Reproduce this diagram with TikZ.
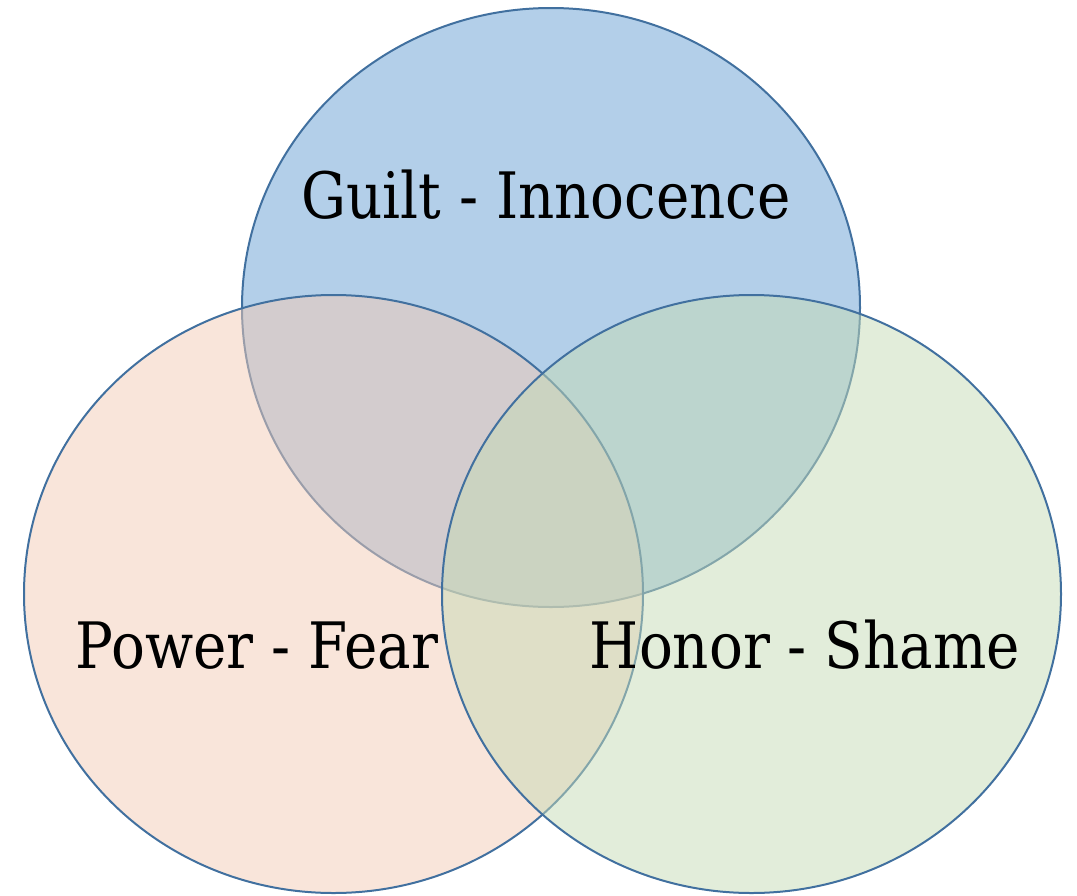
\documentclass[tikz,border=0pt]{standalone}
\usepackage{fontspec}
\setmainfont[FakeStretch=0.88]{DejaVu Serif}
\begin{document}
\begin{tikzpicture}[x=1pt,y=-1pt,
  venn/.style={draw=vennline, line width=2pt, fill opacity=0.5},
  lbl/.style={font=\fontsize{64}{70}\selectfont, text=black, inner sep=0pt, anchor=base}]
\definecolor{vennline}{RGB}{65,112,159}
\definecolor{vtop}{RGB}{179,207,233}
\definecolor{vleft}{RGB}{243,203,181}
\definecolor{vright}{RGB}{197,219,181}
\useasboundingbox (0,0) rectangle (1077,895);
\draw[venn, fill=vtop, fill opacity=1] (551,307.5) ellipse [x radius=309, y radius=299.5];
\draw[venn, fill=vleft] (333.5,594) ellipse [x radius=309.5, y radius=299];
\draw[venn, fill=vright] (751.5,594) ellipse [x radius=309.5, y radius=299];
\node[lbl] (guilt) at (546,218) {Guilt - Innocence};
\node[lbl] (power) at (257,668) {Power - Fear};
\node[lbl] (honor) at (805,668) {Honor - Shame};
\end{tikzpicture}
\end{document}
